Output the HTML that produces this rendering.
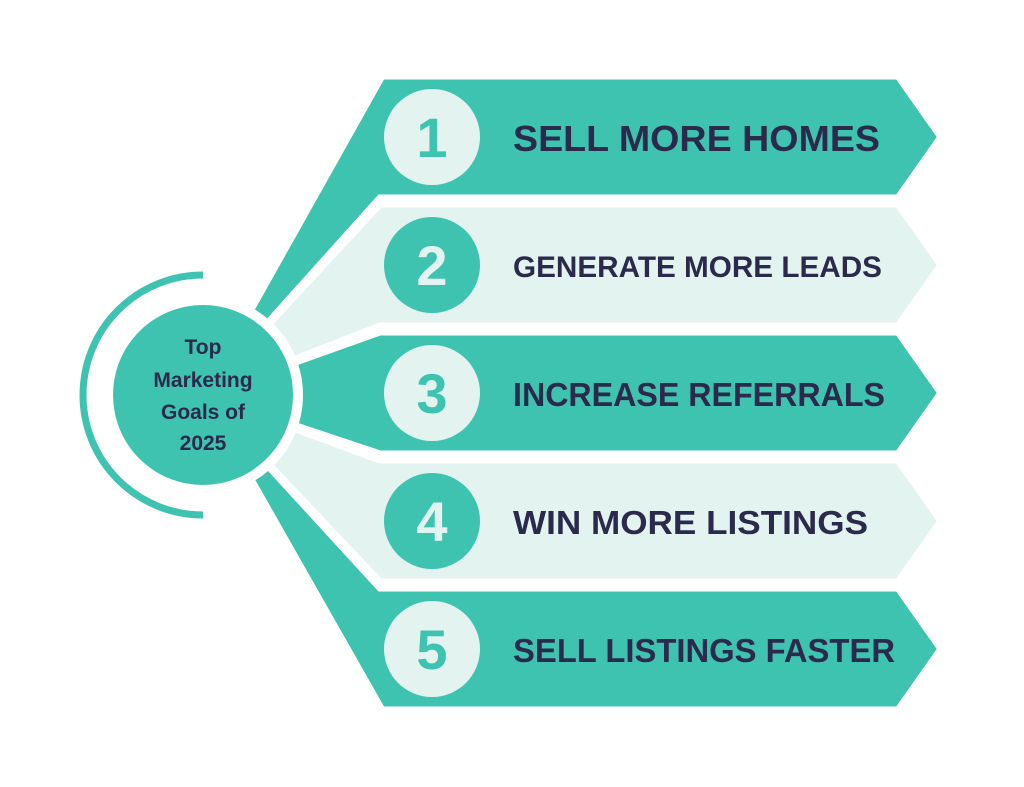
<!DOCTYPE html>
<html><head><style>body{margin:0;background:#fff}svg{display:block}</style></head>
<body>
<svg width="1024" height="787" viewBox="0 0 1024 787" xmlns="http://www.w3.org/2000/svg" font-family="Liberation Sans, sans-serif" font-weight="bold">
<g stroke="#fff" stroke-width="7" stroke-linejoin="miter">
<polygon points="203,395 382,76 898,76 941,137 898,198 380,198" fill="#3ec3b0"/>
<polygon points="203,395 380,204 898,204 941,265 898,326 380,326" fill="#e3f4f0"/>
<polygon points="203,395 380,332 898,332 941,393 898,454 380,454" fill="#3ec3b0"/>
<polygon points="203,395 380,460 898,460 941,521 898,582 380,582" fill="#e3f4f0"/>
<polygon points="203,395 380,588 898,588 941,649 898,710 382,710" fill="#3ec3b0"/>
</g>
<circle cx="203" cy="395" r="100" fill="#fff"/>
<circle cx="203" cy="395" r="90" fill="#3ec3b0"/>
<path d="M203,275 A120,120 0 0 0 203,515" fill="none" stroke="#3ec3b0" stroke-width="7"/>
<g fill="#2b2a4c" font-size="21" text-anchor="middle">
<text x="203" y="354">Top</text>
<text x="203" y="387">Marketing</text>
<text x="203" y="419">Goals of</text>
<text x="203" y="450">2025</text>
</g>
<circle cx="432" cy="137" r="48" fill="#e3f4f0"/>
<circle cx="432" cy="265" r="48" fill="#3ec3b0"/>
<circle cx="432" cy="393" r="48" fill="#e3f4f0"/>
<circle cx="432" cy="521" r="48" fill="#3ec3b0"/>
<circle cx="432" cy="649" r="48" fill="#e3f4f0"/>
<g font-size="56" text-anchor="middle">
<text x="432" y="157" fill="#3ec3b0">1</text>
<text x="432" y="285" fill="#e3f4f0">2</text>
<text x="432" y="413" fill="#3ec3b0">3</text>
<text x="432" y="541" fill="#e3f4f0">4</text>
<text x="432" y="669" fill="#3ec3b0">5</text>
</g>
<g fill="#2b2a4c">
<text x="513" y="151" font-size="36" textLength="367" lengthAdjust="spacingAndGlyphs">SELL MORE HOMES</text>
<text x="513" y="277" font-size="30" textLength="369" lengthAdjust="spacingAndGlyphs">GENERATE MORE LEADS</text>
<text x="513" y="406" font-size="33" textLength="372" lengthAdjust="spacingAndGlyphs">INCREASE REFERRALS</text>
<text x="513" y="534" font-size="33" textLength="355" lengthAdjust="spacingAndGlyphs">WIN MORE LISTINGS</text>
<text x="513" y="662" font-size="33" textLength="382" lengthAdjust="spacingAndGlyphs">SELL LISTINGS FASTER</text>
</g>
</svg>
</body></html>
